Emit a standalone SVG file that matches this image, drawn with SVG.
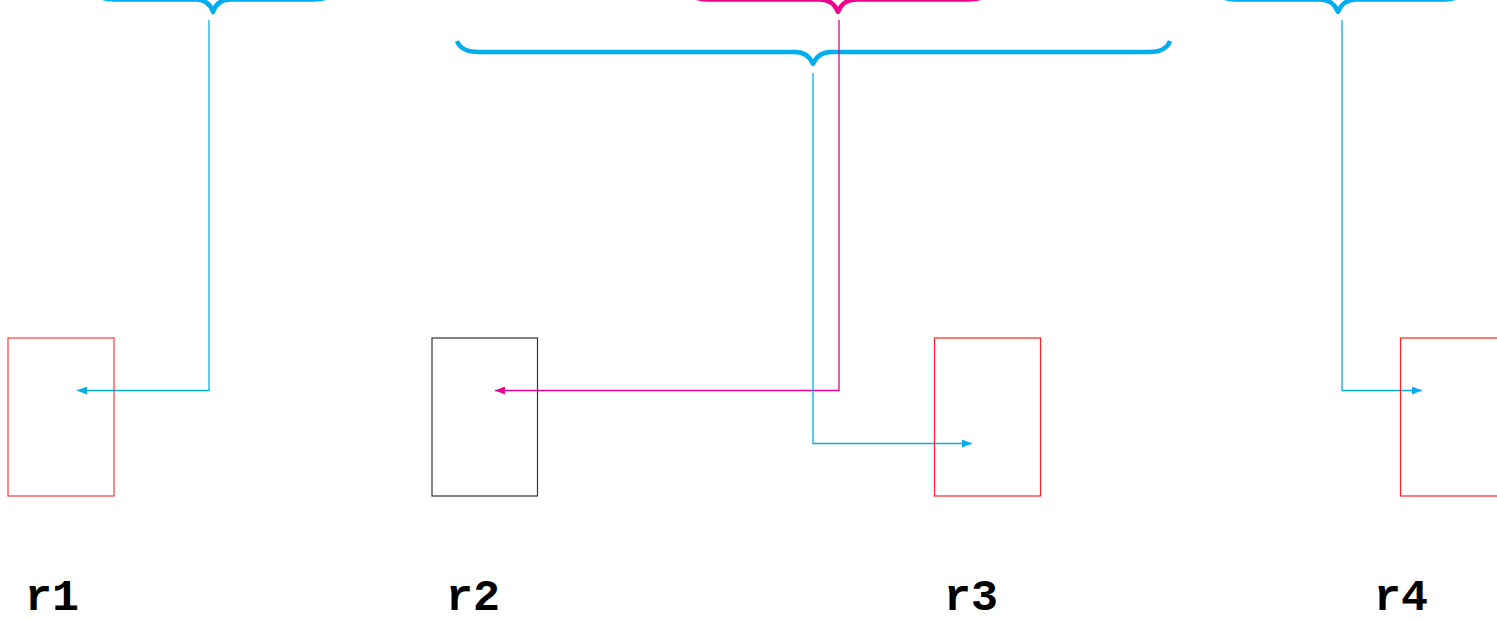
<svg xmlns="http://www.w3.org/2000/svg" width="1497" height="621" viewBox="0 0 1497 621">
  <style>
    .brace { fill: none; stroke-width: 4.5; stroke-linejoin: round; stroke-linecap: butt; }
    .blue { stroke: #00aeef; }
    .pink { stroke: #ec008c; }
    .link { fill: none; stroke-width: 1.3; }
    .reg { fill: none; stroke-width: 1.2; }
    .lbl { font-family: "Liberation Mono", "DejaVu Sans Mono", monospace; font-weight: bold; font-size: 45px; fill: #000; }
  </style>
  <defs>
    <marker id="ah-blue" viewBox="0 0 10 8" refX="10" refY="4" markerWidth="10" markerHeight="8" markerUnits="userSpaceOnUse" orient="auto">
      <path d="M0,0 L10,4 L0,8 Z" fill="#00aeef"/>
    </marker>
    <marker id="ah-pink" viewBox="0 0 10 8" refX="10" refY="4" markerWidth="10" markerHeight="8" markerUnits="userSpaceOnUse" orient="auto">
      <path d="M0,0 L10,4 L0,8 Z" fill="#ec008c"/>
    </marker>
  </defs>

  <!-- braces -->
  <g id="braces">
    <path class="brace blue" d="M92,-12 Q96,-0.5 114,-0.5 L196,-0.5 Q209,-0.5 213,12 Q217,-0.5 230,-0.5 L314,-0.5 Q332,-0.5 336,-12"/>
    <path class="brace pink" d="M686,-12 Q690,-0.5 708,-0.5 L820,-0.5 Q833,-0.5 838,12 Q843,-0.5 856,-0.5 L969,-0.5 Q987,-0.5 991,-12"/>
    <path class="brace blue" d="M1214,-12 Q1218,-0.5 1236,-0.5 L1320,-0.5 Q1333,-0.5 1338,12 Q1343,-0.5 1356,-0.5 L1444,-0.5 Q1462,-0.5 1466,-12"/>
    <path class="brace blue" d="M457,41 Q461,52 479,52 L795,52 Q808,52 813,64 Q818,52 831,52 L1149,52 Q1166,52 1170,41"/>
  </g>

  <!-- connectors -->
  <g id="connectors">
    <path class="link blue" d="M209,20 V390.5 H77" marker-end="url(#ah-blue)"/>
    <path class="link pink" d="M839,20 V390.5 H495" marker-end="url(#ah-pink)"/>
    <path class="link blue" d="M813,73 V443.5 H972" marker-end="url(#ah-blue)"/>
    <path class="link blue" d="M1342,20 V390.5 H1422" marker-end="url(#ah-blue)"/>
  </g>

  <!-- regions -->
  <g id="r1">
    <rect class="reg" x="8" y="338" width="106" height="158" stroke="#ff3b3b"/>
    <text class="lbl" x="25" y="610">r1</text>
  </g>
  <g id="r2">
    <rect class="reg" x="432" y="338" width="105.5" height="158" stroke="#333"/>
    <text class="lbl" x="446" y="610">r2</text>
  </g>
  <g id="r3">
    <rect class="reg" x="934.5" y="338" width="106" height="158" stroke="#ff2020"/>
    <text class="lbl" x="944" y="610">r3</text>
  </g>
  <g id="r4">
    <rect class="reg" x="1400.5" y="338" width="106" height="158" stroke="#ff2020"/>
    <text class="lbl" x="1374" y="610">r4</text>
  </g>
</svg>
